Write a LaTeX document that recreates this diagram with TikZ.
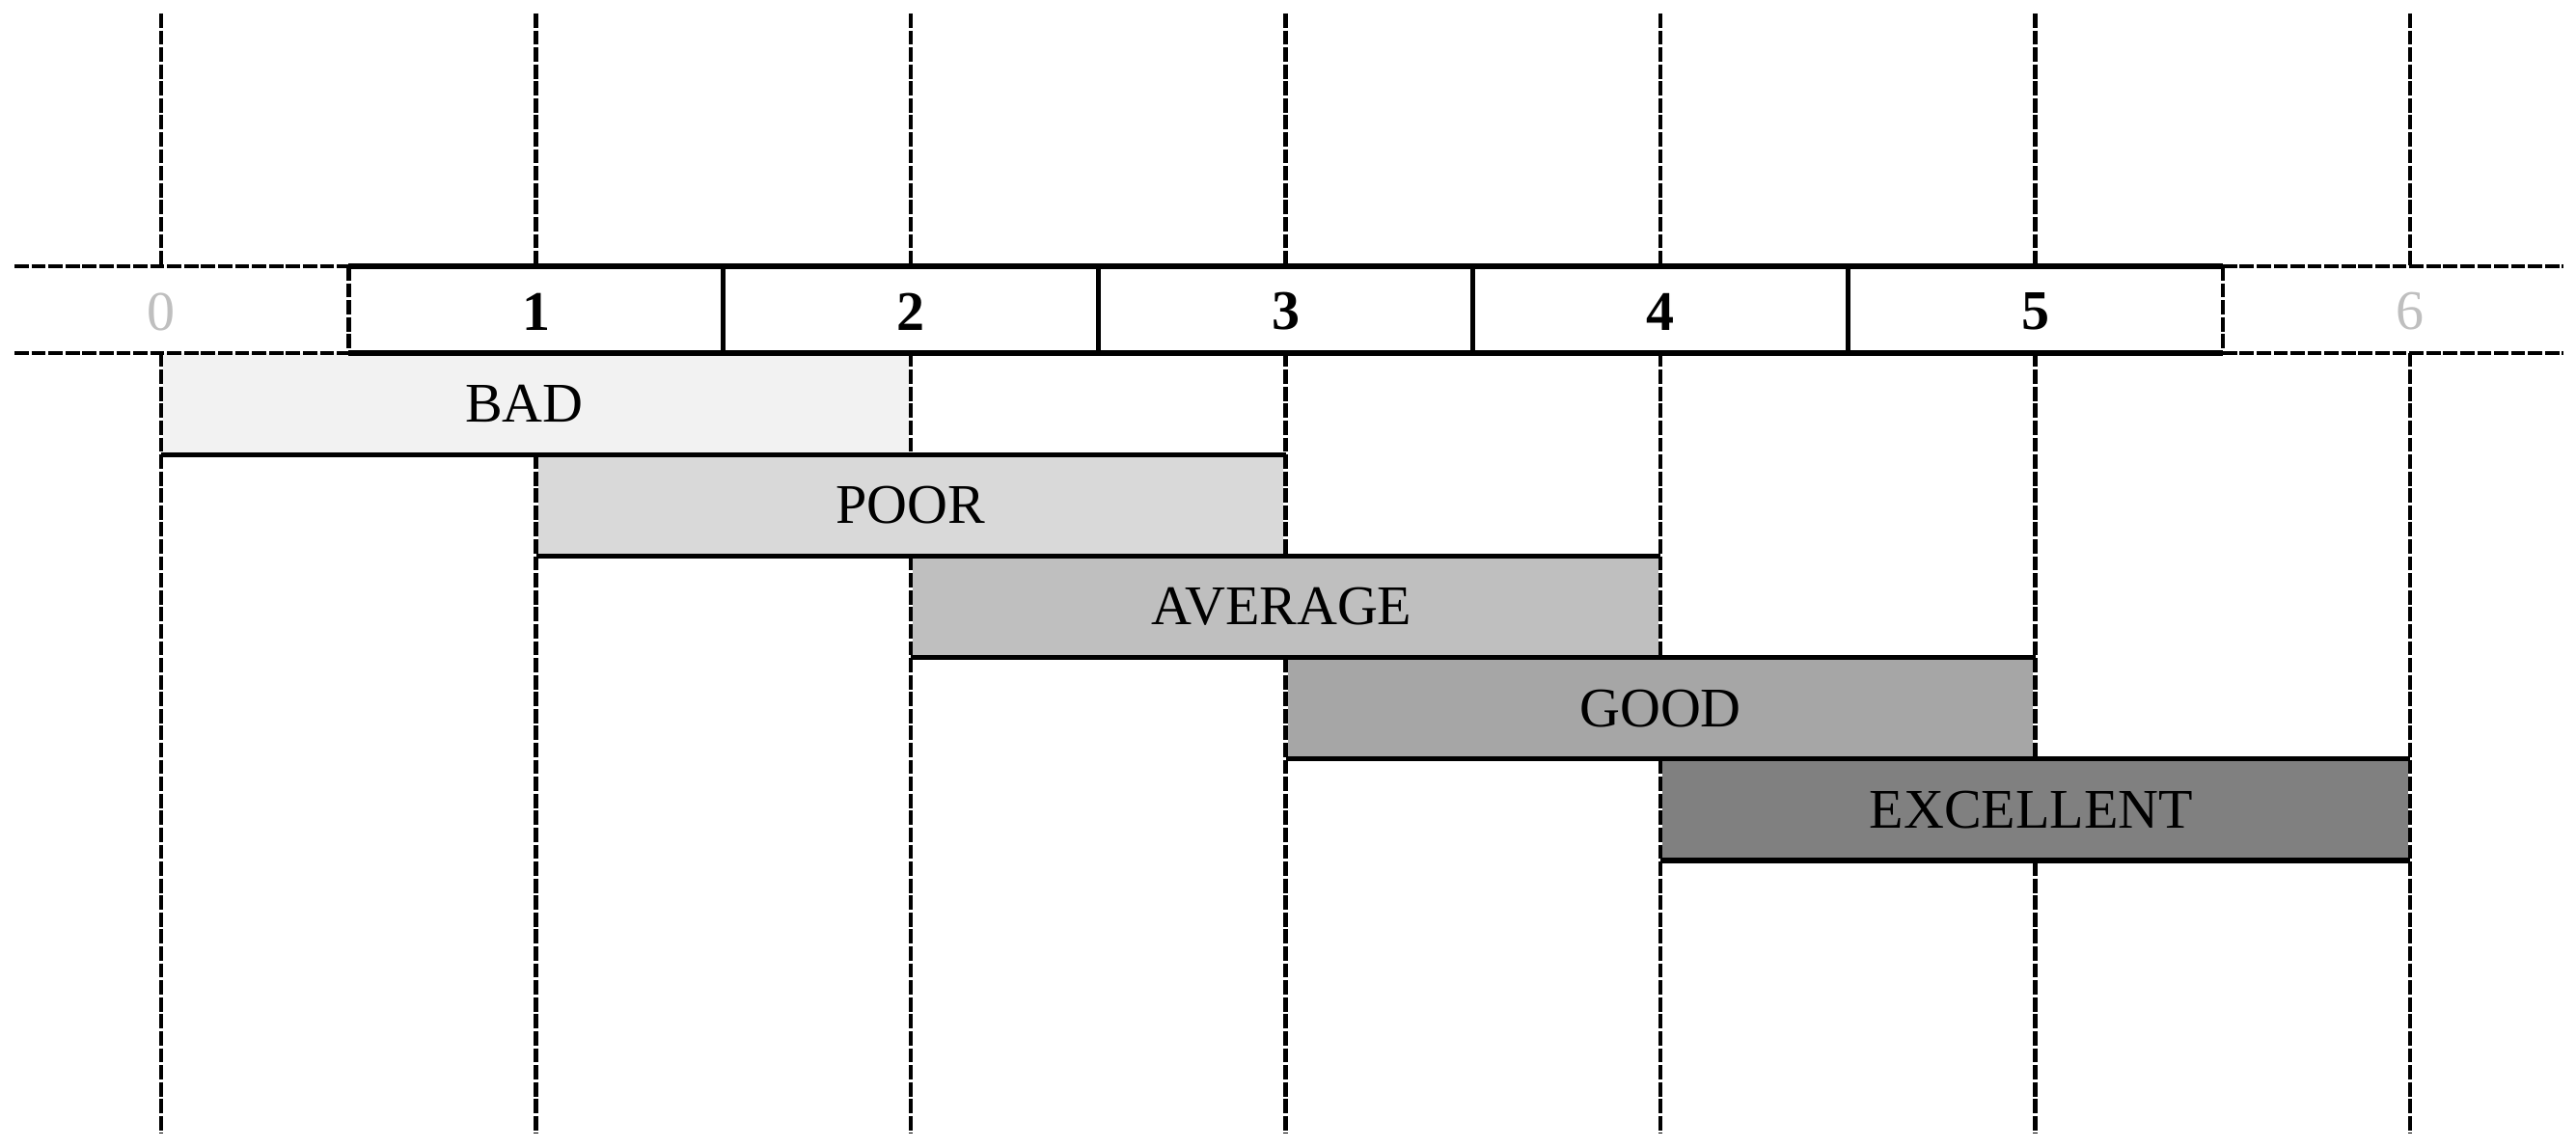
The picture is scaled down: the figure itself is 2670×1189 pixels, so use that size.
\documentclass[tikz,border=0pt]{standalone}
\usepackage{fontspec}
\setmainfont{Liberation Serif}
\definecolor{numgray}{HTML}{BFBFBF}
\definecolor{gbad}{HTML}{F2F2F2}
\definecolor{gpoor}{HTML}{D9D9D9}
\definecolor{gavg}{HTML}{BFBFBF}
\definecolor{ggood}{HTML}{A6A6A6}
\definecolor{gexc}{HTML}{808080}
\begin{document}
\begin{tikzpicture}[x=0.01cm,y=-0.01cm,
  gridline/.style={line width=1.3pt, dash pattern=on 4.2pt off 0.8pt},
  solidline/.style={line width=1.5pt},
  numcell/.style={inner sep=0pt, font=\fontsize{16.5}{19}\selectfont\bfseries},
  endcell/.style={inner sep=0pt, text=numgray, font=\fontsize{16.5}{19}\selectfont},
  barbox/.style={inner sep=0pt, minimum width=7.72cm, minimum height=1.052cm,
    font=\fontsize{16.5}{19}\selectfont},
]
\useasboundingbox (0,0) rectangle (2670,1189);
% vertical dashed grid lines
\foreach \k in {0,...,6}{
  \coordinate (vt\k) at ({167+388.5*\k},14);
  \coordinate (vb\k) at ({167+388.5*\k},1175);
  \draw[gridline] (vt\k) -- (vb\k);
}
% scale row background
\fill[white] (15,276) rectangle (2657,366);
% bars
\foreach \j/\col/\lab in {0/gbad/BAD,1/gpoor/POOR,2/gavg/AVERAGE,3/ggood/GOOD,4/gexc/EXCELLENT}{
  \node[barbox, fill=\col] (b\j) at ({167+388.5*(\j+1)},{366+105.2*\j+52.6}) {};
}
\node[font=\fontsize{16.5}{19}\selectfont, inner sep=0pt] (lb0) at ([xshift=-0.12cm]b0.center) {BAD};
\node[font=\fontsize{16.5}{19}\selectfont, inner sep=0pt] (lb1) at (b1.center) {POOR};
\node[font=\fontsize{16.5}{19}\selectfont, inner sep=0pt] (lb2) at ([xshift=-0.04cm]b2.center) {AVERAGE};
\node[font=\fontsize{16.5}{19}\selectfont, inner sep=0pt] (lb3) at (b3.center) {GOOD};
\node[font=\fontsize{16.5}{19}\selectfont, inner sep=0pt] (lb4) at ([xshift=-0.04cm]b4.center) {EXCELLENT};
% row dashed parts
\coordinate (rl1) at (15,276);
\coordinate (rl2) at (15,366);
\coordinate (rr1) at (2657,276);
\coordinate (rr2) at (2657,366);
\coordinate (ra1) at (361.25,276);
\coordinate (ra2) at (361.25,366);
\coordinate (rb1) at (2303.75,276);
\coordinate (rb2) at (2303.75,366);
\draw[gridline] (rl1) -- (ra1);
\draw[gridline] (rl2) -- (ra2);
\draw[gridline] (rb1) -- (rr1);
\draw[gridline] (rb2) -- (rr2);
\draw[gridline] (ra1) -- (ra2);
\draw[gridline] (rb1) -- (rb2);
% row solid parts
\draw[solidline] (ra1) -- (rb1);
\draw[solidline] (ra2) -- (rb2);
\foreach \k in {1,...,4}{
  \coordinate (dt\k) at ({361.25+388.5*\k},276);
  \coordinate (db\k) at ({361.25+388.5*\k},366);
  \draw[solidline] (dt\k) -- (db\k);
}
% numbers
\node[endcell] (c0) at (167,323) {0};
\foreach \k in {1,...,5}{
  \node[numcell] (c\k) at ({167+388.5*\k},323) {\k};
}
\node[endcell] (c6) at (2498,323) {6};
% bar borders (top and bottom)
\foreach \j in {0,...,4}{
  \coordinate (bl\j) at ({167+388.5*\j},{366+105.2*(\j+1)});
  \coordinate (br\j) at ({167+388.5*(\j+2)},{366+105.2*(\j+1)});
  \draw[solidline] (bl\j) -- (br\j);
}
\foreach \j in {1,...,4}{
  \coordinate (tl\j) at ({167+388.5*\j},{366+105.2*\j});
  \coordinate (tr\j) at ({167+388.5*(\j+2)},{366+105.2*\j});
  \draw[solidline] (tl\j) -- (tr\j);
}
\end{tikzpicture}
\end{document}
